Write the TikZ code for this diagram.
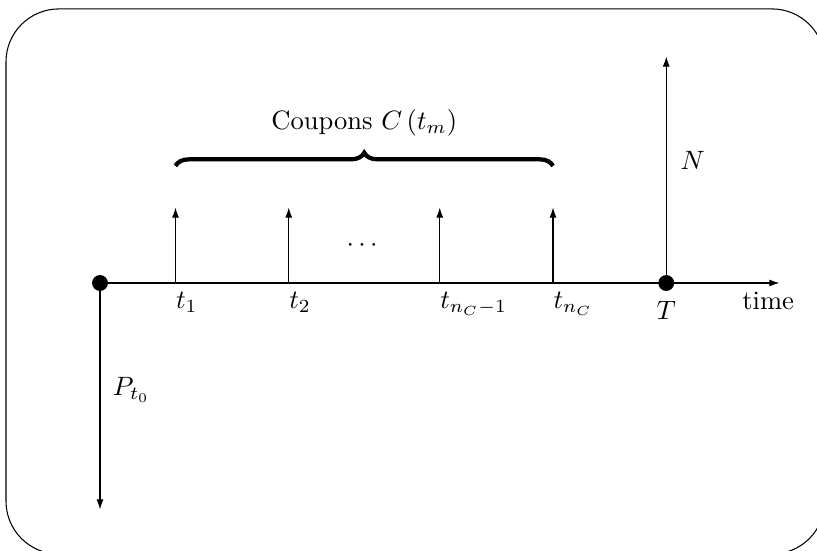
\documentclass[tikz,border=0pt]{standalone}
\usepackage{amsmath}
\usetikzlibrary{arrows.meta,decorations.pathreplacing}

\tikzset{
  flowdot/.style={circle,fill=black,inner sep=0pt,minimum size=6pt},
  cashflow/.style={-{Latex[length=3.8pt,width=2.6pt]}},
  ticklabel/.style={anchor=north west,inner xsep=0pt}
}

\begin{document}
\begin{tikzpicture}[x=0.5cm,y=0.5cm]
  \useasboundingbox (-2.649,-7.073) rectangle (18.993,7.497);
  \draw[rounded corners=0.7cm] (-2.49,-7.18) rectangle (19.2,7.26);
  % time axis
  \node[flowdot] (t0) at (0,0) {};
  \node[flowdot] (T) at (15,0) {};
  \coordinate (tend) at (18,0);
  \draw[cashflow] (t0) -- (tend);
  \node[below] (Tlab) at (T.south) {$T$};
  \node[below] (timelab) at (17.7,0) {time};
  % coupon dates
  \foreach \x/\name/\lab in {2/c1/t_1,5/c2/t_2,9/c3/t_{n_C-1},12/c4/t_{n_C}} {
    \coordinate (\name) at (\x,0);
    \coordinate (\name up) at (\x,2);
    \draw[cashflow] (\name) -- (\name up);
    \node[ticklabel] (\name lab) at (\name) {$\lab$};
  }
  \node (dots) at (7,1) {$\cdots$};
  \coordinate (bl) at (2,3.1);
  \coordinate (br) at (12,3.1);
  \draw[decorate,decoration={brace,amplitude=5pt},ultra thick] (bl) -- (br);
  \node (coup) at (7,4.25) {Coupons $C\left(t_m\right)$};
  % notional and price
  \coordinate (Ntop) at (15,6);
  \draw[cashflow] (T) -- (Ntop);
  \node (Nlab) at (15.7,3.25) {$N$};
  \coordinate (Pbot) at (0,-6);
  \draw[cashflow] (t0) -- (Pbot);
  \node (Plab) at (0.83,-2.83) {$P_{t_0}$};
\end{tikzpicture}
\end{document}
